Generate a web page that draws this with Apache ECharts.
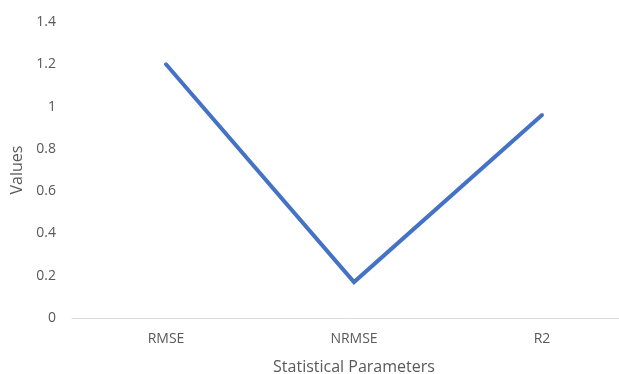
<!DOCTYPE html>
<html>
<head>
<meta charset="utf-8">
<script src="https://cdn.jsdelivr.net/npm/echarts@6/dist/echarts.min.js"></script>
<style>
html,body{margin:0;padding:0;background:#fff;}
#chart{width:619px;height:374px;}
</style>
</head>
<body>
<div id="chart"></div>
<script>
const categories = ["RMSE", "NRMSE", "R2"];
const values = [1.2, 0.17, 0.96];
const yMin = 0, yMax = 1.4, yStep = 0.2;
const xTitle = "Statistical Parameters";
const yTitle = "Values";

const chart = echarts.init(document.getElementById('chart'));
const textColor = '#595959';
const font = '"Open Sans", "Liberation Sans", sans-serif';
chart.setOption({
  animation: false,
  grid: { left: 72, width: 564, top: 22, bottom: 56, containLabel: false, outerBoundsMode: 'none' },
  xAxis: {
    type: 'category',
    data: categories,
    boundaryGap: true,
    name: xTitle,
    nameLocation: 'middle',
    nameGap: 41,
    nameTextStyle: { color: textColor, fontSize: 16, fontFamily: font },
    axisLine: { lineStyle: { color: '#d9d9d9', width: 1 } },
    axisTick: { show: false },
    axisLabel: { color: textColor, fontSize: 14, fontFamily: font, margin: 14 }
  },
  yAxis: {
    type: 'value',
    min: yMin, max: yMax, interval: yStep,
    name: yTitle,
    nameLocation: 'middle',
    nameGap: 46,
    nameTextStyle: { color: textColor, fontSize: 16, fontFamily: font },
    axisLine: { show: false },
    axisTick: { show: false },
    splitLine: { show: false },
    axisLabel: { color: textColor, fontSize: 14, fontFamily: font, margin: 16,
      formatter: v => String(Math.round(v * 10) / 10) }
  },
  series: [{
    type: 'line',
    data: values,
    symbol: 'none',
    lineStyle: { color: '#4472C4', width: 4, cap: 'round', join: 'miter' }
  }]
});
</script>
</body>
</html>
